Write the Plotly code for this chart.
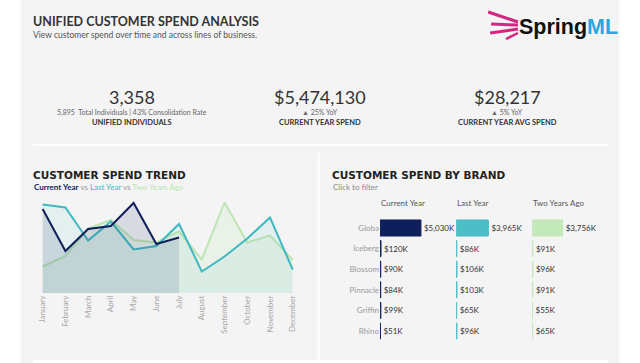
import plotly.graph_objects as go

W, H = 640, 363


def px(x):
    return x / W


def py(y):
    return 1 - y / H


# ---------------- data ----------------
months = ["January", "February", "March", "April", "May", "June", "July",
          "August", "September", "October", "November", "December"]
cur_year = [840, 420, 640, 670, 900, 490, 555]            # $K (Jan-Jul)
last_year = [885, 855, 525, 715, 435, 470, 690, 215, 365, 545, 755, 235]
two_years = [265, 370, 645, 730, 530, 505, 615, 335, 905, 505, 575, 330]

brands = ["Globa", "Iceberg", "Blossom", "Pinnacle", "Griffin", "Rhino"]
brand_cur = [5030, 120, 90, 84, 99, 51]      # $K
brand_last = [3965, 86, 106, 103, 65, 96]
brand_two = [3756, 91, 96, 91, 55, 65]

kpi_values = ["3,358", "$5,474,130", "$28,217"]
kpi_subs = ["5,895  Total Individuals | 43% Consolidation Rate", "▲ 25% YoY", "▲ 5% YoY"]
kpi_labels = ["UNIFIED INDIVIDUALS", "CURRENT YEAR SPEND", "CURRENT YEAR AVG SPEND"]

NAVY = "#0f1f5c"
TEAL = "#3fb8c1"
GREEN = "#bde6b3"
FONT = "Lato"

fig = go.Figure()

# ---------------- trend chart ----------------
fig.add_trace(go.Scatter(x=months, y=two_years, mode="lines", name="Two Years Ago",
                         line=dict(color=GREEN, width=2), fill="tozeroy",
                         fillcolor="rgba(185,228,176,0.16)", hoverinfo="x+y"))
fig.add_trace(go.Scatter(x=months, y=last_year, mode="lines", name="Last Year",
                         line=dict(color=TEAL, width=2), fill="tozeroy",
                         fillcolor="rgba(63,184,193,0.09)", hoverinfo="x+y"))
fig.add_trace(go.Scatter(x=months[:len(cur_year)], y=cur_year, mode="lines", name="Current Year",
                         line=dict(color=NAVY, width=2), fill="tozeroy",
                         fillcolor="rgba(20,35,95,0.12)", hoverinfo="x+y"))

# ---------------- brand chart ----------------
px_per_k = 0.0082
cols = [("x2", brand_cur, NAVY, 380, 455), ("x3", brand_last, "#4bbec6", 456.7, 531.5),
        ("x4", brand_two, "#c3e8ba", 533.3, 610)]
for ax, vals, col, x0, x1 in cols:
    fig.add_trace(go.Bar(x=vals, y=brands, orientation="h", xaxis=ax, yaxis="y2",
                         marker=dict(color=col, line=dict(color=col, width=1)),
                         width=0.78, text=[f"${v:,}K" for v in vals],
                         textposition="outside", constraintext="none", cliponaxis=False,
                         textfont=dict(size=8, color="#333333", family=FONT),
                         showlegend=False, hoverinfo="x+y"))

layout_axes = {}
for i, (ax, vals, col, x0, x1) in enumerate(cols):
    name = "xaxis" + ax[1:]
    layout_axes[name] = dict(domain=[px(x0), px(x1)], range=[0, (x1 - x0) / px_per_k],
                             anchor="y2", visible=False, fixedrange=True)

fig.update_layout(**layout_axes)

fig.update_layout(
    width=W, height=H, margin=dict(l=0, r=0, t=0, b=0),
    paper_bgcolor="white", plot_bgcolor="rgba(0,0,0,0)", showlegend=False,
    font=dict(family=FONT),
    xaxis=dict(domain=[px(37.7), px(294.3)], range=[-0.1, 11.1], showgrid=False,
               zeroline=False, showline=False, tickangle=-90, ticks="",
               tickfont=dict(size=8, color="#a8a8a8", family=FONT), fixedrange=True),
    yaxis=dict(domain=[py(293), py(188)], range=[0, 1050], showgrid=False,
               zeroline=False, showticklabels=False, fixedrange=True),
    yaxis2=dict(domain=[py(341.3), py(217.7)], anchor="x2", type="category",
                categoryorder="array", categoryarray=brands, autorange="reversed",
                showgrid=False, zeroline=False, showline=False, ticks="",
                tickfont=dict(size=8, color="#9a9a9a", family=FONT), fixedrange=True),
)

# ---------------- background panels ----------------
shapes = [
    dict(type="rect", xref="paper", yref="paper", x0=px(18), x1=px(621), y0=0, y1=1,
         fillcolor="#f4f4f4", line=dict(width=0), layer="below"),
    dict(type="line", xref="paper", yref="paper", x0=px(30), x1=px(610), y0=py(145), y1=py(145),
         line=dict(color="white", width=2), layer="below"),
    dict(type="line", xref="paper", yref="paper", x0=px(318), x1=px(318), y0=py(153), y1=py(360),
         line=dict(color="white", width=2), layer="below"),
    dict(type="rect", xref="paper", yref="paper", x0=px(30), x1=px(610), y0=0, y1=py(360),
         fillcolor="white", line=dict(width=0), layer="below"),
]
# logo streaks
for (a, b, c, d, w) in [(489, 12, 519, 22, 3), (492, 24, 519, 25, 3), (491, 33, 519, 29, 3),
                        (507, 39, 519, 33, 2.5)]:
    shapes.append(dict(type="line", xref="paper", yref="paper", x0=px(a), y0=py(b),
                       x1=px(c), y1=py(d), line=dict(color="#d42581", width=w)))
fig.update_layout(shapes=shapes)

# ---------------- texts ----------------
ann = []
PAD = 4  # annotation inner padding compensation


def text(x, y, s, size, color="#333333", anchor="left", bold=False, family=FONT):
    if anchor == "left":
        x -= PAD
    ann.append(dict(xref="paper", yref="paper", x=px(x), y=py(y), text=(f"<b>{s}</b>" if bold else s),
                    showarrow=False, xanchor=anchor, yanchor="middle",
                    font=dict(size=size, color=color, family=family)))


text(32, 21, "UNIFIED CUSTOMER SPEND ANALYSIS", 12.5, "#333333", bold=True)
text(32, 35, "View customer spend over time and across lines of business.", 8.5, "#555555")
text(522, 27, "Spring<span style='color:#2ba6de'>ML</span>", 21.5, "#111111", bold=True,
     family="Liberation Sans")

centers = [130, 319, 508]
for cx, v, s, lab in zip(centers, kpi_values, kpi_subs, kpi_labels):
    text(cx, 97, v, 18, "#333333", anchor="center")
    text(cx, 112, s, 7, "#666666", anchor="center")
    text(cx, 122, lab, 7.5, "#333333", anchor="center", bold=True)

text(32, 175, "CUSTOMER SPEND TREND", 10.5, "#222222", bold=True, family="DejaVu Sans")
text(33, 187, f"<b><span style='color:{NAVY}'>Current Year</span></b>"
     f"<span style='color:#999999'> vs </span><span style='color:{TEAL}'>Last Year</span>"
     f"<span style='color:#999999'> vs </span><span style='color:{GREEN}'>Two Years Ago</span>",
     8, "#333333")

text(334, 175, "CUSTOMER SPEND BY BRAND", 10.5, "#222222", bold=True, family="DejaVu Sans")
text(335, 187, "Click to filter", 8, "#8a8a8a")
for x, s in [(383, "Current Year"), (460, "Last Year"), (536, "Two Years Ago")]:
    text(x, 203, s, 8, "#555555")

fig.update_layout(annotations=ann)

fig.write_html("out.html", config={"displayModeBar": False},
               post_script="document.body.style.margin='0';"
               "document.body.style.overflow='hidden';")
